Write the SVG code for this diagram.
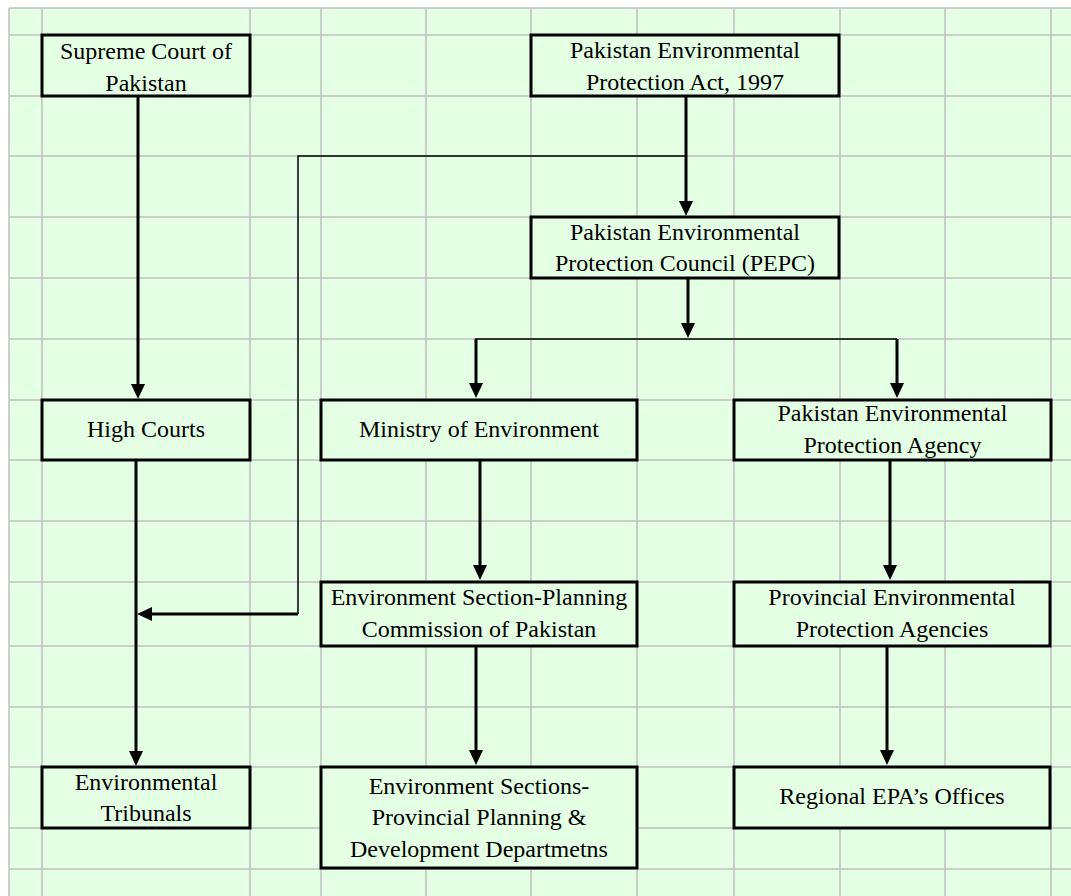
<svg xmlns="http://www.w3.org/2000/svg" width="1071" height="896" viewBox="0 0 1071 896">
<style>
.grid{stroke:#C0C0C0;stroke-width:1.5;fill:none}
.box{fill:#E5FFE5;stroke:#000;stroke-width:3}
.t{font-family:"Liberation Serif","Times New Roman",serif;font-size:24px;fill:#000;text-anchor:middle}
.thick{stroke:#000;stroke-width:3;fill:none}
.thin{stroke:#000;stroke-width:1.5;fill:none}
</style>
<defs>
<marker id="ah" viewBox="0 0 15 14" markerWidth="15" markerHeight="14" refX="1" refY="7" orient="auto" markerUnits="userSpaceOnUse">
<path d="M0,0 L15,7 L0,14 z" fill="#000"/>
</marker>
</defs>
<rect x="0" y="0" width="1071" height="896" fill="#fff"/>
<rect x="9" y="8" width="1062" height="888" fill="#E5FFE5"/>
<g id="grid">
<path class="grid" d="M9,8 H1071 M9,35 H1071 M9,96 H1071 M9,156 H1071 M9,217 H1071 M9,278 H1071 M9,339 H1071 M9,400 H1071 M9,460 H1071 M9,521 H1071 M9,582 H1071 M9,646 H1071 M9,707 H1071 M9,767 H1071 M9,828 H1071 M9,869 H1071"/>
<path class="grid" d="M9,8 V896 M42,8 V896 M250,8 V896 M321,8 V896 M426,8 V896 M531,8 V896 M637,8 V896 M734,8 V896 M840,8 V896 M945,8 V896 M1051,8 V896"/>
</g>
<g id="connectors">
<path class="thin" d="M686,156 H298 V614"/>
<path class="thick" d="M298,614 H151" marker-end="url(#ah)"/>
<path class="thick" d="M138,96 V385" marker-end="url(#ah)"/>
<path class="thick" d="M136,460 V752" marker-end="url(#ah)"/>
<path class="thick" d="M686,96 V202" marker-end="url(#ah)"/>
<path class="thick" d="M688,278 V324" marker-end="url(#ah)"/>
<path class="thin" d="M475,339 H897"/>
<path class="thick" d="M476,339 V384" marker-end="url(#ah)"/>
<path class="thick" d="M897,339 V384" marker-end="url(#ah)"/>
<path class="thick" d="M480,460 V566" marker-end="url(#ah)"/>
<path class="thick" d="M476,646 V751" marker-end="url(#ah)"/>
<path class="thick" d="M890,460 V566" marker-end="url(#ah)"/>
<path class="thick" d="M887,646 V751" marker-end="url(#ah)"/>
</g>
<g id="supreme-court">
<rect class="box" x="42" y="35" width="208" height="61"/>
<text class="t" x="146" y="58.5">Supreme Court of</text>
<text class="t" x="146" y="90.5">Pakistan</text>
</g>
<g id="pepa-act">
<rect class="box" x="531" y="35" width="308" height="61"/>
<text class="t" x="685" y="57.5">Pakistan Environmental</text>
<text class="t" x="685" y="89.5">Protection Act, 1997</text>
</g>
<g id="pepc">
<rect class="box" x="531" y="217" width="308" height="61"/>
<text class="t" x="685" y="239.5">Pakistan Environmental</text>
<text class="t" x="685" y="271">Protection Council (PEPC)</text>
</g>
<g id="high-courts">
<rect class="box" x="42" y="400" width="208" height="60"/>
<text class="t" x="146" y="437">High Courts</text>
</g>
<g id="ministry">
<rect class="box" x="321" y="400" width="316" height="60"/>
<text class="t" x="479" y="437">Ministry of Environment</text>
</g>
<g id="pak-epa">
<rect class="box" x="734" y="400" width="317" height="60"/>
<text class="t" x="892.5" y="421">Pakistan Environmental</text>
<text class="t" x="892.5" y="453">Protection Agency</text>
</g>
<g id="env-section-planning">
<rect class="box" x="321" y="582" width="316" height="64"/>
<text class="t" x="479" y="605">Environment Section-Planning</text>
<text class="t" x="479" y="637">Commission of Pakistan</text>
</g>
<g id="provincial-epas">
<rect class="box" x="734" y="582" width="316" height="64"/>
<text class="t" x="892" y="605">Provincial Environmental</text>
<text class="t" x="892" y="637">Protection Agencies</text>
</g>
<g id="tribunals">
<rect class="box" x="42" y="767" width="208" height="61"/>
<text class="t" x="146" y="790">Environmental</text>
<text class="t" x="146" y="821">Tribunals</text>
</g>
<g id="env-sections-provincial">
<rect class="box" x="321" y="767" width="316" height="101"/>
<text class="t" x="479" y="793.5">Environment Sections-</text>
<text class="t" x="479" y="825">Provincial Planning &amp;</text>
<text class="t" x="479" y="857">Development Departmetns</text>
</g>
<g id="regional-epa">
<rect class="box" x="734" y="767" width="316" height="61"/>
<text class="t" x="892" y="803.5">Regional EPA’s Offices</text>
</g>
</svg>
